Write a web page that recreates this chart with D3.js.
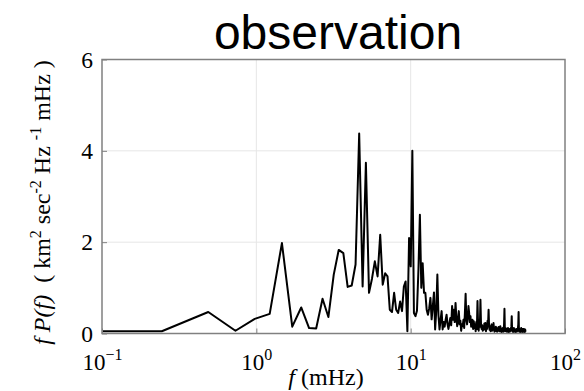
<!DOCTYPE html>
<html>
<head>
<meta charset="utf-8">
<script src="https://cdn.jsdelivr.net/npm/d3@7"></script>
<style>
  body { margin: 0; background: #fff; }
  svg { display: block; }
</style>
</head>
<body>
<svg id="chart" width="584" height="391"></svg>
<script>
// ---- data -------------------------------------------------------------
const chartTitle = "observation";
const xTickExponents = [-1, 0, 1, 2];       // decades on the frequency axis
const yTickValues = [0, 2, 4, 6];
const xGridExponents = [0, 1];
const yGridValues = [2, 4];

// spectrum sampled every df (mHz); first sample sits at the left axis limit
const df = 0.244140625;
const leftEdgeSample = { f: 0.1, p: 0.05 };
const power = [
  0.05, 0.47, 0.06, 0.32, 0.43, 1.98, 0.15, 0.57, 0.12, 0.11,   // k 1-10
  0.76, 0.36, 1.29, 1.83, 1.76, 1.02, 1.05, 1.51, 4.38, 1.03,   // 11-20
  3.74, 0.89, 1.20, 1.58, 1.25, 2.16, 1.07, 1.32, 1.25, 0.52,   // 21-30
  0.47, 0.89, 0.52, 0.45, 0.70, 0.49, 1.03, 1.14, 0.05, 2.09,   // 31-40
  1.47, 4.00, 0.45, 0.38, 0.50, 1.40, 2.60, 1.00, 1.54, 0.89,   // 41-50
  0.89, 0.52, 0.41, 0.55, 0.78, 0.31, 0.60, 0.90, 0.09, 0.50,   // 51-60
  1.29, 0.40, 0.09, 0.30, 0.49, 0.09, 0.25, 0.15, 0.30, 0.41,   // 61-70
  0.20, 0.10, 0.22, 0.34, 0.18, 0.60, 0.30, 0.52, 0.25, 0.67,   // 71-80
  0.35, 0.16, 0.30, 0.49, 0.20, 0.28, 0.06, 0.20, 0.16, 0.30,   // 81-90
  0.12, 0.45, 0.87, 0.30, 0.20, 0.35, 0.60, 0.45, 0.25, 0.38,   // 91-100
  0.15, 0.16, 0.30, 0.10, 0.27, 0.12, 0.20, 0.05, 0.25, 0.10,   // 101-110
  0.71, 0.20, 0.06, 0.30, 0.15, 0.74, 0.20, 0.10, 0.18, 0.06,   // 111-120
  0.15, 0.08, 0.22, 0.10, 0.23, 0.05, 0.15, 0.10, 0.28, 0.20,   // 121-130
  0.52, 0.15, 0.08, 0.16, 0.05, 0.12, 0.20, 0.06, 0.14, 0.08,   // 131-140
  0.23, 0.10, 0.04, 0.12, 0.07, 0.15, 0.05, 0.10, 0.04, 0.12,   // 141-150
  0.06, 0.14, 0.08, 0.05, 0.10, 0.16, 0.05, 0.09, 0.03, 0.11,   // 151-160
  0.06, 0.12, 0.04, 0.08, 0.20, 0.54, 0.10, 0.05, 0.12, 0.06,   // 161-170
  0.10, 0.04, 0.09, 0.05, 0.12, 0.03, 0.08, 0.05, 0.10, 0.04,   // 171-180
  0.09, 0.06, 0.12, 0.15, 0.38, 0.08, 0.05, 0.10, 0.03, 0.08,   // 181-190
  0.12, 0.04, 0.10, 0.06, 0.09, 0.03, 0.07, 0.05, 0.10, 0.04,   // 191-200
  0.08, 0.06, 0.12, 0.20, 0.47, 0.08, 0.04, 0.10, 0.05, 0.09,   // 201-210
  0.03, 0.07, 0.12, 0.04, 0.08, 0.05, 0.10, 0.03, 0.07, 0.09,   // 211-220
  0.04, 0.10, 0.05, 0.08, 0.03, 0.09, 0.05, 0.06                // 221-228
];

// ---- layout -----------------------------------------------------------
const svg = d3.select("#chart");
const plot = { left: 102, right: 565, top: 59.5, bottom: 333.5 };
const serif = "'Liberation Serif', 'Times New Roman', serif";
const sans = "'Liberation Sans', Arial, Helvetica, sans-serif";

const x = d3.scaleLog().domain([0.1, 100]).range([plot.left, plot.right]);
const y = d3.scaleLinear().domain([0, 6]).range([plot.bottom, plot.top]);

const series = [leftEdgeSample].concat(power.map((p, i) => ({ f: (i + 1) * df, p })));

// grid
const grid = svg.append("g").attr("stroke", "#e6e6e6").attr("stroke-width", 1);
grid.selectAll("line.gx").data(xGridExponents).join("line")
  .attr("x1", d => x(Math.pow(10, d))).attr("x2", d => x(Math.pow(10, d)))
  .attr("y1", plot.top).attr("y2", plot.bottom);
grid.selectAll("line.gy").data(yGridValues).join("line")
  .attr("x1", plot.left).attr("x2", plot.right)
  .attr("y1", d => y(d)).attr("y2", d => y(d));

// spectrum line
svg.append("path")
  .datum(series)
  .attr("fill", "none")
  .attr("stroke", "#000")
  .attr("stroke-width", 2)
  .attr("stroke-linejoin", "round")
  .attr("d", d3.line().x(d => x(d.f)).y(d => y(d.p)));

// axes
const xAxis = d3.axisBottom(x)
  .tickValues(xTickExponents.map(e => Math.pow(10, e)))
  .tickSize(-5).tickPadding(0);
const gx = svg.append("g").attr("transform", `translate(0,${plot.bottom})`).call(xAxis);
gx.select(".domain").remove();
gx.selectAll(".tick line").attr("stroke", "#808080");
gx.selectAll(".tick text").each(function (d) {
  const t = d3.select(this);
  const e = Math.round(Math.log10(d));
  t.text(null).attr("y", 36.5).attr("dy", null)
    .attr("font-family", serif).attr("font-size", 23).attr("fill", "#000");
  t.append("tspan").text("10");
  t.append("tspan").attr("dy", -10).attr("font-size", 16)
    .text(e < 0 ? "\u2212" + Math.abs(e) : String(e));
});

const yAxis = d3.axisLeft(y).tickValues(yTickValues).tickSize(-5).tickPadding(9)
  .tickFormat(d3.format("d"));
const gy = svg.append("g").attr("transform", `translate(${plot.left},0)`).call(yAxis);
gy.select(".domain").remove();
gy.selectAll(".tick line").attr("stroke", "#808080");
gy.selectAll(".tick text")
  .attr("font-family", serif).attr("font-size", 23.5).attr("fill", "#000");

// frame
svg.append("rect")
  .attr("x", plot.left).attr("y", plot.top)
  .attr("width", plot.right - plot.left).attr("height", plot.bottom - plot.top)
  .attr("fill", "none").attr("stroke", "#808080").attr("stroke-width", 1.5);

// title
svg.append("text")
  .attr("x", 338).attr("y", 49)
  .attr("text-anchor", "middle")
  .attr("font-family", sans).attr("font-size", 48).attr("fill", "#000")
  .text(chartTitle);

// x label
const xl = svg.append("text")
  .attr("x", 326).attr("y", 385)
  .attr("text-anchor", "middle")
  .attr("font-family", serif).attr("font-size", 24).attr("fill", "#000");
xl.append("tspan").attr("font-style", "italic").text("f");
xl.append("tspan").text(" (mHz)");

// y label
const yl = svg.append("text")
  .attr("transform", "translate(50,202.5) rotate(-90)")
  .attr("text-anchor", "middle")
  .attr("font-family", serif).attr("font-size", 24).attr("fill", "#000");
yl.append("tspan").attr("font-style", "italic").text("f P(f)");
yl.append("tspan").text("\u00a0\u00a0( km");
yl.append("tspan").attr("dy", -9).attr("font-size", 16).text("2");
yl.append("tspan").attr("dy", 9).text(" sec");
yl.append("tspan").attr("dy", -9).attr("font-size", 16).text("-2");
yl.append("tspan").attr("dy", 9).text(" Hz ");
yl.append("tspan").attr("dy", -9).attr("font-size", 16).text("-1");
yl.append("tspan").attr("dy", 9).text(" mHz )");
</script>
</body>
</html>
